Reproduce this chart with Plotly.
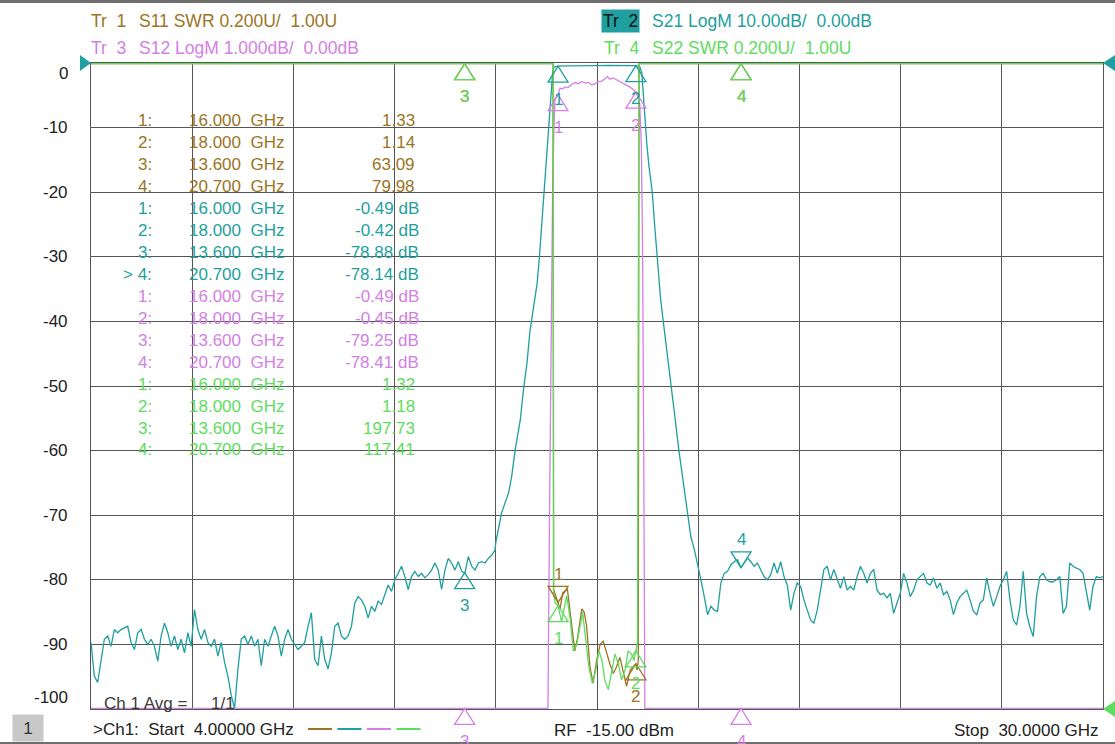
import numpy as np
import plotly.graph_objects as go

# sweep + marker readout, as shown on the analyzer screen
start_ghz = 4.0
stop_ghz = 30.0
marker_ghz = [16.0, 18.0, 13.6, 20.7]
s11_marker = [1.33, 1.14, 63.09, 79.98]
s21_marker = [-0.49, -0.42, -78.88, -78.14]
s12_marker = [-0.49, -0.45, -79.25, -78.41]
s22_marker = [1.32, 1.18, 197.73, 117.41]
y_ticks = [0, -10, -20, -30, -40, -50, -60, -70, -80, -90, -100]

# S21 noise floor below the passband (4.00 .. 14.38 GHz, even sweep)
s21_low_span = (4.0, 14.38)
s21_low_db = [
    -89.7, -94.9, -95.9, -92.8, -89.2, -88.7, -90.3, -87.7, -88.2, -87.7,
    -87.4, -87.2, -89.7, -90.8, -88.2, -87.7, -89.2, -90.0, -89.2, -90.3,
    -92.6, -88.7, -86.7, -88.2, -90.3, -88.7, -90.8, -89.2, -91.3, -88.2,
    -90.3, -84.6, -87.7, -89.2, -87.7, -89.7, -90.3, -89.2, -91.8, -89.7,
    -92.8, -94.9, -97.9, -101.0, -93.8, -89.2, -88.7, -90.0, -88.7, -90.3,
    -89.2, -93.3, -89.2, -90.3, -88.7, -87.2, -88.7, -91.8, -89.2, -87.7,
    -89.2, -90.0, -90.8, -90.3, -89.7, -87.2, -85.1, -92.3, -93.3, -88.7,
    -92.3, -93.8, -91.3, -87.2, -86.7, -88.7, -89.2, -88.7, -87.2, -83.6,
    -82.6, -83.1, -84.1, -85.9, -84.1, -84.9, -83.3, -83.8, -82.3, -80.8,
    -81.8, -80.0, -79.0, -77.9, -79.5, -81.5, -79.5, -78.7, -79.5, -79.0,
    -79.7, -79.2, -78.5, -77.4, -78.5, -81.5, -78.5, -76.7, -77.4, -78.5,
    -77.2, -78.7, -79.0, -76.4, -77.9, -78.5, -77.4, -77.2, -77.4, -76.7,
    -76.2, -75.4,
]

# S21 skirts and passband
s21_mid_ghz = [
    14.40, 14.47, 14.55, 14.73, 14.81, 14.90, 15.03, 15.11, 15.20, 15.28,
    15.37, 15.46, 15.52, 15.58, 15.64, 15.70, 15.74, 15.78, 15.82, 15.86,
    15.90, 16.00, 16.25, 16.50, 16.75, 17.00, 17.25, 17.50, 17.75, 18.00,
    18.10, 18.15, 18.18, 18.23, 18.28, 18.33, 18.42, 18.48, 18.54, 18.63,
    18.73, 18.84, 18.90, 19.02, 19.10, 19.19, 19.32, 19.41, 19.50, 19.58,
]
s21_mid_db = [
    -74.2, -72.2, -69.6, -66.5, -63.9, -59.8, -55.2, -50.6, -46.5, -41.4,
    -37.8, -34.2, -30.1, -25.0, -20.0, -14.5, -10.5, -7.0, -4.0, -1.5,
    -0.6, -0.49, -0.45, -0.40, -0.38, -0.40, -0.37, -0.40, -0.41, -0.42,
    -0.6, -1.5, -4.0, -9.0, -12.5, -15.7, -20.0, -25.0, -30.1, -36.3,
    -41.4, -46.5, -50.0, -55.7, -59.8, -63.9, -69.6, -73.3, -75.3, -77.4,
]

# S21 noise floor above the passband (19.67 .. 30.00 GHz, even sweep)
s21_high_span = (19.67, 30.0)
s21_high_db = [
    -80.0, -82.6, -85.4, -84.1, -84.7, -84.9, -80.5, -79.0, -78.7, -77.7,
    -77.2, -76.9, -78.1, -77.4, -76.6, -77.2, -77.9, -77.4, -78.4, -79.5,
    -80.0, -79.2, -77.4, -79.0, -77.2, -79.5, -80.8, -84.7, -82.1, -80.5,
    -81.0, -83.1, -84.7, -86.2, -86.7, -84.7, -81.6, -78.4, -77.9, -80.0,
    -78.4, -80.0, -81.3, -79.5, -81.6, -81.0, -81.6, -79.5, -77.9, -79.0,
    -80.5, -79.0, -78.4, -81.6, -82.3, -82.1, -82.8, -82.1, -85.2, -83.6,
    -82.1, -79.0, -80.5, -82.6, -81.6, -80.0, -79.5, -79.0, -80.5, -80.8,
    -79.7, -81.3, -80.5, -82.3, -81.8, -83.1, -85.4, -83.6, -82.6, -82.1,
    -81.6, -83.1, -84.9, -85.4, -83.6, -83.1, -79.7, -82.1, -84.1, -82.6,
    -81.0, -80.0, -78.7, -83.1, -86.2, -87.0, -84.1, -78.7, -85.2, -87.3,
    -88.8, -82.6, -79.5, -79.0, -80.0, -80.3, -80.3, -80.0, -79.5, -85.2,
    -84.1, -77.4, -77.9, -78.2, -78.4, -79.0, -81.6, -84.7, -81.0, -79.5,
    -79.7, -79.5,
]

# S12 (1 dB/div, so only the passband is on screen)
s12_ghz = [
    4.0, 13.6, 15.60, 15.70, 15.74, 15.78, 15.82, 15.86, 15.89, 15.92,
    16.00, 16.05, 16.12, 16.18, 16.26, 16.35, 16.44, 16.52, 16.61, 16.70,
    16.78, 16.87, 16.95, 17.04, 17.13, 17.21, 17.27, 17.33, 17.42, 17.50,
    17.59, 17.67, 17.76, 17.84, 17.93, 18.00, 18.06, 18.10, 18.14, 18.17,
    18.20, 18.23, 18.28, 18.40, 20.7, 30.0,
]
s12_db = [
    -88.0, -79.25, -20.0, -14.5, -10.6, -7.0, -4.0, -2.0, -1.1, -0.55,
    -0.49, -0.39, -0.40, -0.37, -0.38, -0.33, -0.30, -0.32, -0.29, -0.31,
    -0.30, -0.34, -0.32, -0.29, -0.28, -0.24, -0.21, -0.25, -0.23, -0.26,
    -0.29, -0.32, -0.34, -0.37, -0.41, -0.45, -0.55, -0.65, -1.3, -2.8,
    -6.0, -10.5, -14.0, -25.0, -78.41, -84.0,
]

# S11 / S22 SWR
s11_ghz = [
    4.0, 13.6, 15.87, 15.885, 15.96, 16.00, 16.05, 16.12, 16.24, 16.35,
    16.43, 16.50, 16.61, 16.67, 16.73, 16.82, 16.90, 16.99, 17.08, 17.16,
    17.25, 17.33, 17.42, 17.50, 17.59, 17.68, 17.76, 17.85, 17.93, 18.00,
    18.03, 18.06, 18.08, 20.7, 30.0,
]
s11_swr = [
    40.0, 63.09, 12.0, 1.37, 1.34, 1.33, 1.31, 1.36, 1.37, 1.26,
    1.18, 1.22, 1.31, 1.30, 1.26, 1.13, 1.08, 1.15, 1.20, 1.21,
    1.17, 1.14, 1.11, 1.13, 1.16, 1.11, 1.07, 1.12, 1.13, 1.14,
    1.12, 1.15, 12.0, 79.98, 45.0,
]
s22_ghz = [
    4.0, 13.6, 15.875, 15.885, 15.92, 16.00, 16.09, 16.22, 16.31, 16.39,
    16.48, 16.63, 16.72, 16.79, 16.88, 16.97, 17.05, 17.13, 17.20, 17.29,
    17.37, 17.46, 17.55, 17.63, 17.72, 17.80, 17.89, 17.95, 18.00, 18.04,
    18.075, 20.7, 30.0,
]
s22_swr = [
    150.0, 197.73, 20.0, 1.36, 1.33, 1.32, 1.27, 1.35, 1.28, 1.18,
    1.20, 1.30, 1.21, 1.13, 1.08, 1.12, 1.18, 1.15, 1.09, 1.06,
    1.11, 1.17, 1.14, 1.09, 1.12, 1.18, 1.17, 1.15, 1.18, 1.21,
    20.0, 117.41, 90.0,
]

FONT = "Liberation Sans, Arial, sans-serif"
BROWN = "#9c7424"
TEAL = "#1f9f9f"
VIOLET = "#d480e6"
GREEN = "#5edc5e"
GRID = "#555555"
INK = "#222222"
W, H = 1115, 744
M = dict(l=91, r=12, t=63, b=35)
PW, PH = W - M["l"] - M["r"], H - M["t"] - M["b"]

# screen scale of each trace: bottom/top of the graticule
ranges = {"y": (-100, 0), "y2": (-10, 0), "y3": (1, 3)}


def clip(vals, ax):
    # the analyzer pins off-screen data to the graticule edge
    lo, hi = ranges[ax]
    pad = (hi - lo) * 0.001
    return np.clip(np.asarray(vals, dtype=float), lo + pad, hi - pad)


s21_ghz = np.concatenate([
    np.linspace(*s21_low_span, len(s21_low_db)),
    s21_mid_ghz,
    np.linspace(*s21_high_span, len(s21_high_db)),
])
s21_db = np.concatenate([s21_low_db, s21_mid_db, s21_high_db])

traces = [
    ("Tr 1", s11_ghz, s11_swr, "y3", BROWN, s11_marker, "{:.2f}", 0),
    ("Tr 2", s21_ghz, s21_db, "y", TEAL, s21_marker, "{:.2f} dB", 3),
    ("Tr 3", s12_ghz, s12_db, "y2", VIOLET, s12_marker, "{:.2f} dB", None),
    ("Tr 4", s22_ghz, s22_swr, "y3", GREEN, s22_marker, "{:.2f}", None),
]

fig = go.Figure()
for name, f, v, ax, col, mk, fmt, act in traces:
    fig.add_trace(go.Scatter(
        x=f, y=clip(v, ax), yaxis=ax, mode="lines", name=name,
        line=dict(color=col, width=1.3), hoverinfo="skip", showlegend=False,
    ))

shapes = []
ann = []


def px_text(text, x, y, color=INK, anchor="left", size=17, **kw):
    # text placed in screen pixels (x, y measured from top-left of page)
    ann.append(dict(
        text=text, xref="paper", yref="paper", x=0, y=1,
        xshift=x - M["l"], yshift=M["t"] - y, xanchor=anchor, yanchor="middle",
        showarrow=False, font=dict(family=FONT, size=size, color=color), **kw,
    ))


# marker triangles + numbers
for name, f, v, ax, col, mk, fmt, act in traces:
    lo, hi = ranges[ax]
    for i, (mf, mv) in enumerate(zip(marker_ghz, clip(mk, ax))):
        down = act == i
        h = 16 if down else -16
        shapes.append(dict(
            type="path", xref="x", yref=f"{ax} domain",
            xsizemode="pixel", ysizemode="pixel",
            xanchor=mf, yanchor=(mv - lo) / (hi - lo),
            path=f"M0,0 L-10,{h} L10,{h} Z",
            line=dict(color=col, width=1.3), fillcolor="rgba(0,0,0,0)",
        ))
        ann.append(dict(
            text=str(i + 1), x=mf, y=mv, xref="x", yref=ax,
            yshift=28 if down else -33, showarrow=False,
            font=dict(family=FONT, size=17, color=col),
        ))

# marker table
row = 0
for name, f, v, ax, col, mk, fmt, act in traces:
    for i, (mf, mv) in enumerate(zip(marker_ghz, mk)):
        y = 120.7 + 21.95 * row
        idx = f"&gt; {i + 1}:" if act == i and name == "Tr 2" else f"{i + 1}:"
        px_text(idx, 154, y, col, "right")
        px_text(f"{mf:.3f}\u00a0\u00a0GHz", 187, y, col)
        px_text(fmt.format(mv), 421 if "dB" in fmt else 417, y, col, "right")
        row += 1

# trace headers
HS = 17.5
px_text("Tr\u00a0\u00a01", 89, 21, BROWN, size=HS)
px_text("S11 SWR 0.200U/\u00a0\u00a01.00U", 137, 21, BROWN, size=HS)
px_text("Tr\u00a0\u00a03", 89, 48, VIOLET, size=HS)
px_text("S12 LogM 1.000dB/\u00a0\u00a00.00dB", 137, 48, VIOLET, size=HS)
px_text("Tr\u00a0\u00a02", 601, 21, "#111111", size=HS, bgcolor=TEAL, borderpad=1)
px_text("S21 LogM 10.00dB/\u00a0\u00a00.00dB", 650, 21, TEAL, size=HS)
px_text("Tr\u00a0\u00a04", 602, 48, GREEN, size=HS)
px_text("S22 SWR 0.200U/\u00a0\u00a01.00U", 650, 48, GREEN, size=HS)

# y scale labels (Tr 2 scale), end labels tucked inside the graticule
for t in y_ticks:
    shift = -10 if t == ranges["y"][1] else (12 if t == ranges["y"][0] else 0)
    ann.append(dict(
        text=str(t), xref="paper", yref="y", x=0, y=t, xshift=-21, yshift=shift,
        xanchor="right", yanchor="middle", showarrow=False,
        font=dict(family=FONT, size=17, color=INK),
    ))

# status texts
px_text("Ch 1 Avg =\u00a0\u00a0\u00a0\u00a0\u00a01/1", 102, 703, "#3c3c3c")
px_text("&gt;Ch1:\u00a0\u00a0Start\u00a0\u00a04.00000 GHz", 91, 729)
px_text("RF\u00a0\u00a0-15.00 dBm", 552, 730)
px_text("Stop\u00a0\u00a030.0000 GHz", 1101, 730, anchor="right")
px_text("1", 28, 728, "#333333", anchor="center", width=26, height=22,
        bgcolor="#c8c8c8", borderpad=2)

# trace colour keys in the status line
for k, (name, f, v, ax, col, *_rest) in enumerate(traces):
    x0 = 308 + 29.5 * k - M["l"]
    shapes.append(dict(
        type="line", xref="paper", yref="paper", xsizemode="pixel", ysizemode="pixel",
        xanchor=0, yanchor=0, x0=x0, x1=x0 + 24, y0=-20, y1=-20,
        line=dict(color=col, width=2),
    ))

# reference position arrows
ref_arrows = [
    (0, "y", 1, "M0,0 L-11,-8 L-11,8 Z", TEAL),
    (1, "y", 1, "M0,0 L12,-8 L12,8 Z", TEAL),
    (1, "y3", 0, "M0,0 L12,-8 L12,8 Z", GREEN),
]
for xa, ax, ya, path, col in ref_arrows:
    shapes.append(dict(
        type="path", xref="paper", yref=f"{ax} domain", xsizemode="pixel",
        ysizemode="pixel", xanchor=xa, yanchor=ya, path=path,
        fillcolor=col, line=dict(width=0),
    ))

# thin window frame at top and bottom of the screen
for y0, y1 in [(H - 3, H), (0, 2)]:
    shapes.append(dict(
        type="rect", xref="paper", yref="paper",
        x0=-M["l"] / PW, x1=1 + M["r"] / PW,
        y0=(y0 - M["b"]) / PH, y1=(y1 - M["b"]) / PH,
        fillcolor="#6e6e6e", line=dict(width=0), layer="below",
    ))

axis_style = dict(
    showticklabels=False, ticks="", showgrid=True, gridcolor=GRID, gridwidth=1,
    showline=True, mirror=True, linecolor=GRID, linewidth=1, zeroline=False,
    layer="below traces", fixedrange=True,
)
fig.update_layout(
    width=W, height=H, margin=M, paper_bgcolor="white", plot_bgcolor="white",
    xaxis=dict(range=[start_ghz, stop_ghz], tick0=start_ghz,
               dtick=(stop_ghz - start_ghz) / 10, **axis_style),
    yaxis=dict(range=list(ranges["y"]), tick0=0, dtick=10, **axis_style),
    yaxis2=dict(range=list(ranges["y2"]), overlaying="y", visible=False),
    yaxis3=dict(range=list(ranges["y3"]), overlaying="y", visible=False),
    shapes=shapes, annotations=ann, showlegend=False,
)

fig.write_html(
    "out.html", config={"displayModeBar": False},
    post_script="document.body.style.margin='0';",
)
